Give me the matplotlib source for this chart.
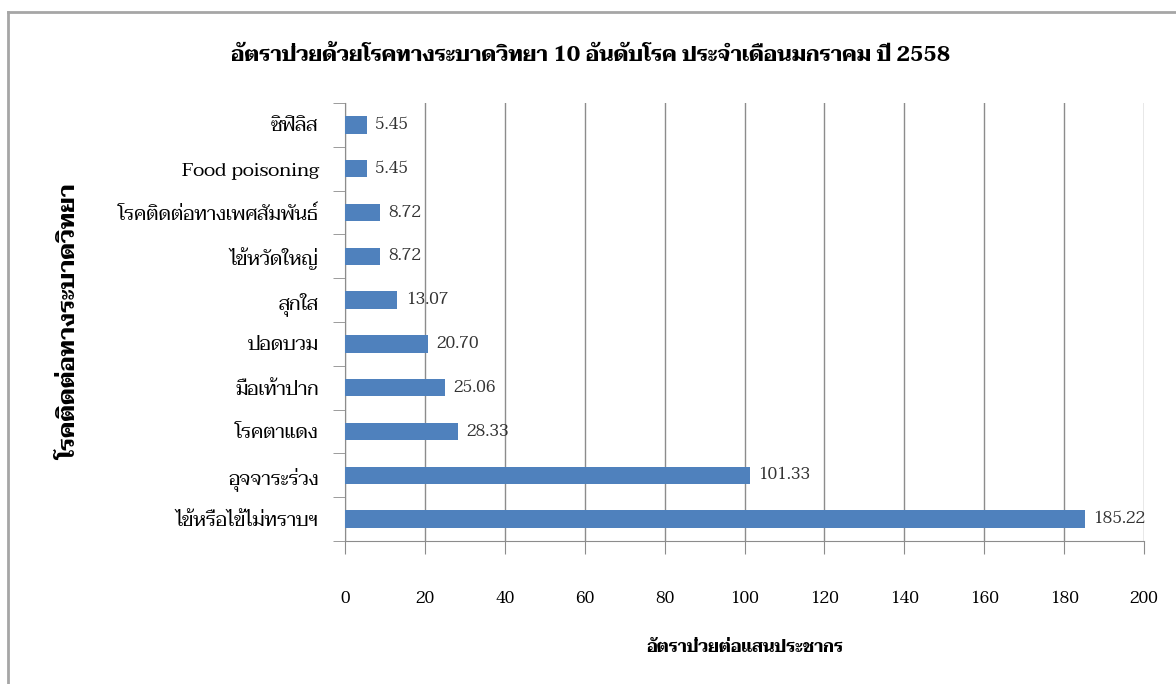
import matplotlib
matplotlib.use('Agg')
import matplotlib.pyplot as plt
from matplotlib import font_manager
from matplotlib.lines import Line2D

# data, bottom to top
diseases = ['ไข้หรือไข้ไม่ทราบฯ', 'อุจจาระร่วง', 'โรคตาแดง', 'มือเท้าปาก', 'ปอดบวม',
            'สุกใส', 'ไข้หวัดใหญ่', 'โรคติดต่อทางเพศสัมพันธ์', 'Food poisoning', 'ซิฟิลิส']
rates = [185.22, 101.33, 28.33, 25.06, 20.70, 13.07, 8.72, 8.72, 5.45, 5.45]
xticks = [0, 20, 40, 60, 80, 100, 120, 140, 160, 180, 200]

title = 'อัตราป่วยด้วยโรคทางระบาดวิทยา 10 อันดับโรค ประจำเดือนมกราคม ปี 2558'
xlabel = 'อัตราป่วยต่อแสนประชากร'
ylabel = 'โรคติดต่อทางระบาดวิทยา'

names = {f.name for f in font_manager.fontManager.ttflist}
def pick(*cands):
    for c in cands:
        if c in names:
            return c
    return 'DejaVu Sans'

serif = pick('Norasi', 'Kinnari', 'Taviraj', 'Trirong', 'Sarabun')
plt.rcParams['font.family'] = [serif, 'DejaVu Sans']

bar_color = '#4F81BD'
grid_color = '#8C8C8C'

fig = plt.figure(figsize=(11.76, 6.84), dpi=100)
ax = fig.add_axes([0.2934, 0.2091, 0.6794, 0.6403])

ypos = list(range(len(diseases)))
ax.barh(ypos, rates, height=0.4, color=bar_color, zorder=3)

for y, v in zip(ypos, rates):
    ax.annotate(f'{v:.2f}', (v, y), xytext=(6, 0), textcoords='offset points',
                va='center', ha='left', fontsize=12, color='#333333', zorder=4)

ax.set_xlim(0, 200)
ax.set_ylim(-0.5, len(diseases) - 0.5)
ax.set_xticks(xticks)
ax.set_xticklabels([str(t) for t in xticks], fontsize=12)
ax.set_yticks(ypos)
ax.set_yticklabels(diseases, fontsize=14)
ax.set_yticks([i - 0.5 for i in range(len(diseases) + 1)], minor=True)

ax.tick_params(axis='y', which='major', length=0, pad=19)
ax.tick_params(axis='y', which='minor', length=9, color=grid_color, direction='out')
ax.tick_params(axis='x', length=9, color=grid_color, direction='out', pad=27)

ax.xaxis.grid(True, color=grid_color, linewidth=1)
ax.set_axisbelow(True)
for s in ('top', 'right'):
    ax.spines[s].set_visible(False)
for s in ('left', 'bottom'):
    ax.spines[s].set_color(grid_color)

ax.set_xlabel(xlabel, fontsize=12, fontweight='bold', labelpad=24)
ax.set_ylabel(ylabel, fontsize=17, fontweight='bold')
ax.yaxis.set_label_coords(-0.33, 0.5)

fig.text(0.502, 0.92, title, ha='center', va='center', fontsize=15, fontweight='bold')

# chart frame
fig.add_artist(Line2D([8 / 1176, 1], [1 - 12 / 684, 1 - 12 / 684], color='#A6A6A6', linewidth=2))
fig.add_artist(Line2D([8 / 1176, 8 / 1176], [0, 1 - 12 / 684], color='#A6A6A6', linewidth=2))

fig.savefig('out.png', dpi=100)
